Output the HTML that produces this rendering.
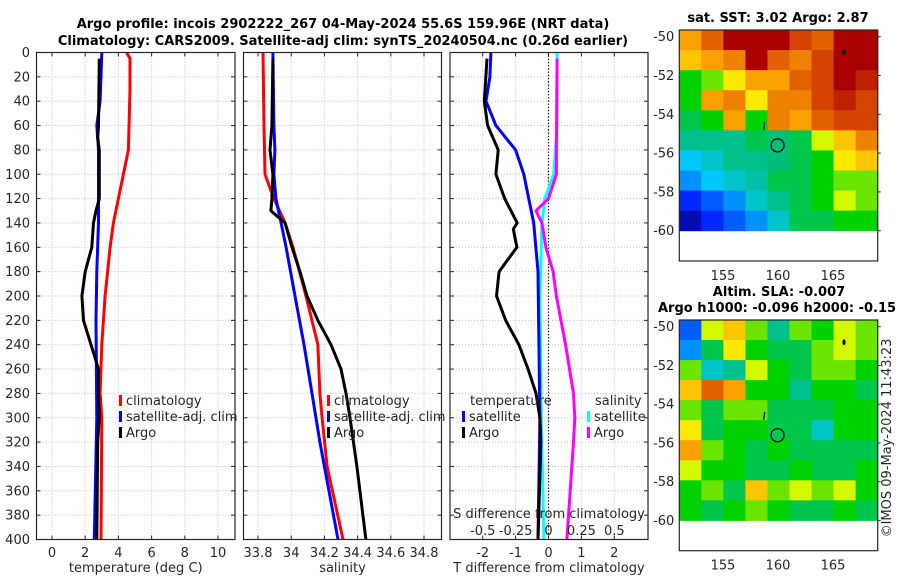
<!DOCTYPE html>
<html><head><meta charset="utf-8"><style>
body{margin:0;background:#fff;}
svg{font-family:"DejaVu Sans","Liberation Sans",sans-serif;}
</style></head><body>
<svg id="s" width="900" height="580" xmlns="http://www.w3.org/2000/svg"></svg>
<script>
const depths_clim=[0,5,30,80,100,120,140,160,200,240,280,300,400];
const tempClim=[4.5,4.7,4.7,4.6,4.3,4.0,3.7,3.5,3.2,3.0,2.9,3.0,2.95];
const depths_sat=[0,40,60,80,100,140,180,220,300,400];
const tempSat=[3.0,2.9,2.7,2.8,2.8,2.8,2.7,2.65,2.7,2.55];
const depths_argo=[5,60,70,80,120,130,140,160,180,200,220,240,260,280,300,320,400];
const tempArgo=[2.85,2.8,2.75,2.85,2.85,2.65,2.5,2.4,2.0,1.8,1.9,2.35,2.8,2.8,2.85,2.75,2.7];
const depths_sc=[0,60,100,120,140,160,200,240,280,300,340,400];
const salClim=[33.83,33.836,33.842,33.896,33.963,34.011,34.089,34.161,34.173,34.186,34.216,34.312];
const depths_ss=[0,60,80,100,120,140,160,200,240,280,320,400];
const salSat=[33.89,33.896,33.902,33.896,33.908,33.939,33.969,34.023,34.077,34.125,34.173,34.282];
const depths_sa=[5,60,80,100,120,130,140,160,180,200,220,240,260,280,300,340,400];
const salArgo=[33.89,33.884,33.872,33.89,33.884,33.878,33.963,34.005,34.053,34.095,34.161,34.24,34.3,34.33,34.354,34.396,34.45];
const depths_dts=[0,20,40,60,80,100,140,180,300,400];
const dTSat=[-1.75,-1.78,-1.9,-1.6,-1.0,-0.75,-0.45,-0.32,-0.26,-0.32];
const depths_dta=[5,40,60,80,100,120,140,145,160,180,200,220,240,260,280,300,320,400];
const dTArgo=[-1.87,-1.95,-1.85,-1.53,-1.6,-1.33,-0.95,-1.07,-0.96,-1.5,-1.58,-1.3,-0.9,-0.62,-0.38,-0.26,-0.23,-0.32];
const depths_dss=[0,60,100,120,140,160,200,300,400];
const dSSat=[0.065,0.065,0.04,-0.027,-0.05,-0.055,-0.065,-0.055,-0.035];
const depths_dsa=[5,80,100,120,130,140,160,180,200,240,280,300,320,400];
const dSArgo=[0.065,0.06,0.06,0.0,-0.095,-0.05,-0.02,0.035,0.06,0.13,0.19,0.2,0.19,0.14];
const depthTicks=[0,20,40,60,80,100,120,140,160,180,200,220,240,260,280,300,320,340,360,380,400];
const tempTicks=[0,2,4,6,8,10];
const salTicks=[33.8,34,34.2,34.4,34.6,34.8];
const salTickLabels=["33.8","34","34.2","34.4","34.6","34.8"];
const dTTicks=[-2,-1,0,1,2];
const dSTicks=[-0.5,-0.25,0,0.25,0.5];
const dSTickLabels=["-0.5","-0.25","0","0.25","0.5"];
const latTicks=[-50,-52,-54,-56,-58,-60];
const lonTicks=[155,160,165];
const sstGrid=[
[0.75,0.85,1,1,1,0.9,0.85,1,1],
[0.7,0.75,0.8,1,0.85,0.8,0.9,1,1],
[0.5,0.55,0.65,0.75,0.75,0.85,0.9,1,0.95],
[0.5,0.75,0.8,0.65,0.8,0.8,0.9,0.95,0.9],
[0.45,0.5,0.75,0.5,0.8,0.75,0.85,0.9,0.9],
[0.4,0.4,0.4,0.45,0.42,0.45,0.6,0.7,0.8],
[0.3,0.35,0.4,0.4,0.42,0.45,0.5,0.65,0.7],
[0.25,0.3,0.35,0.38,0.45,0.45,0.5,0.55,0.55],
[0.15,0.2,0.25,0.35,0.4,0.45,0.5,0.6,0.55],
[0.05,0.15,0.2,0.25,0.35,0.45,0.45,0.5,0.5]];
const slaGrid=[
[0.2,0.6,0.7,0.55,0.4,0.55,0.5,0.6,0.55],
[0.25,0.45,0.65,0.5,0.45,0.45,0.55,0.6,0.55],
[0.55,0.35,0.4,0.6,0.5,0.45,0.55,0.55,0.5],
[0.7,0.85,0.75,0.5,0.5,0.4,0.5,0.5,0.45],
[0.55,0.45,0.55,0.55,0.45,0.45,0.45,0.5,0.5],
[0.65,0.45,0.5,0.5,0.45,0.45,0.35,0.5,0.5],
[0.75,0.55,0.5,0.45,0.5,0.45,0.45,0.45,0.45],
[0.6,0.5,0.5,0.45,0.45,0.5,0.45,0.45,0.5],
[0.5,0.55,0.45,0.7,0.55,0.6,0.55,0.6,0.5],
[0.5,0.45,0.5,0.55,0.5,0.45,0.45,0.5,0.45]];

const S=document.getElementById('s');
const NS='http://www.w3.org/2000/svg';
function el(t,a,p){const e=document.createElementNS(NS,t);for(const k in a)e.setAttribute(k,a[k]);(p||S).appendChild(e);return e;}
function txt(x,y,s,a,p){const e=el('text',Object.assign({x:x,y:y,'font-size':13,fill:'#262626'},a||{}),p);e.textContent=s;return e;}
const Y0=52.5,Y1=539.5;
const yS=p=>Y0+p*(Y1-Y0)/400;

function panel(name,x0,x1,xs,ticks,labels,title){
  const g=el('g',{});
  
  
  ticks.forEach(t=>{const x=xs(t);el('line',{x1:x,x2:x,y1:Y0,y2:Y1,stroke:'#b8c0dc','stroke-dasharray':'1,2','stroke-width':1},g);});
  depthTicks.forEach(d=>{const y=yS(d);el('line',{x1:x0,x2:x1,y1:y,y2:y,stroke:'#b8c0dc','stroke-dasharray':'1,2','stroke-width':1},g);
    el('line',{x1:x0,x2:x0+4,y1:y,y2:y,stroke:'#262626'},g);el('line',{x1:x1-4,x2:x1,y1:y,y2:y,stroke:'#262626'},g);});
  ticks.forEach((t,i)=>{const x=xs(t);el('line',{x1:x,x2:x,y1:Y1,y2:Y1-4,stroke:'#262626'},g);el('line',{x1:x,x2:x,y1:Y0,y2:Y0+4,stroke:'#262626'},g);
    const l=txt(x,557,labels[i],{'text-anchor':'middle'},g);});
  const tt=txt((x0+x1)/2,572,title,{'text-anchor':'middle'},g);
  
  return g;
}
function frame(g,x0,x1){el('rect',{x:x0,y:Y0,width:x1-x0,height:Y1-Y0,fill:'none',stroke:'#262626','stroke-width':1.2},g);}
function line(g,depths,vals,xs,color,name){
  const d=vals.map((v,i)=>(i?'L':'M')+xs(v).toFixed(1)+','+yS(depths[i]).toFixed(1)).join('');
  const p=el('path',{d:d,fill:'none',stroke:color,'stroke-width':3,'stroke-linejoin':'round'},g);
  
}
function leg(g,x,y,color,label){
  el('rect',{x:x,y:y-10,width:3,height:11,fill:color},g);
  const t=txt(x+7,y,label,{},g);
}

// Panel 1
const xT=t=>52+t*16.6;
const g1=panel('temperature-panel',36.5,235,xT,tempTicks,tempTicks.map(String),'temperature (deg C)');
depthTicks.forEach(d=>{const l=txt(30,yS(d)+4.5,String(d),{'text-anchor':'end'});});
line(g1,depths_clim,tempClim,xT,'#ff0000','temp-climatology-line');
line(g1,depths_sat,tempSat,xT,'#0000ff','temp-satellite-line');
line(g1,depths_argo,tempArgo,xT,'#000000','temp-argo-line');
frame(g1,36.5,235);
leg(g1,119,405,'#ff0000','climatology');leg(g1,119,421,'#0000ff','satellite-adj. clim');leg(g1,119,437,'#000000','Argo');

// Panel 2
const xSal=s=>258+(s-33.8)*166;
const g2=panel('salinity-panel',243.5,441.5,xSal,salTicks,salTickLabels,'salinity');
line(g2,depths_sc,salClim,xSal,'#ff0000','sal-climatology-line');
line(g2,depths_ss,salSat,xSal,'#0000ff','sal-satellite-line');
line(g2,depths_sa,salArgo,xSal,'#000000','sal-argo-line');
frame(g2,243.5,441.5);
leg(g2,327,405,'#ff0000','climatology');leg(g2,327,421,'#0000ff','satellite-adj. clim');leg(g2,327,437,'#000000','Argo');

// Panel 3
const xD=d=>548.5+d*32.9;
const xDS=d=>548.5+d*131.6;
const g3=panel('difference-panel',450,648,xD,dTTicks,dTTicks.map(String),'T difference from climatology');
el('line',{x1:xD(0),x2:xD(0),y1:Y0,y2:Y1,stroke:'#000','stroke-dasharray':'1.2,2','stroke-width':1.2},g3);
line(g3,depths_dss,dSSat,xDS,'#00ffff','sdiff-satellite-line');
line(g3,depths_dsa,dSArgo,xDS,'#ff00ff','sdiff-argo-line');
line(g3,depths_dts,dTSat,xD,'#0000ff','tdiff-satellite-line');
line(g3,depths_dta,dTArgo,xD,'#000000','tdiff-argo-line');
frame(g3,450,648);
txt(470,405,'temperature',{},g3);leg(g3,462,421,'#0000ff','satellite');leg(g3,462,437,'#000000','Argo');
txt(595,405,'salinity',{},g3);leg(g3,587,421,'#00ffff','satellite');leg(g3,587,437,'#ff00ff','Argo');
txt(549,518,'S difference from climatology',{'text-anchor':'middle'},g3);
dSTicks.forEach((t,i)=>{const l=txt(xDS(t),535,dSTickLabels[i],{'text-anchor':'middle'},g3);});

// Titles
const t1=txt(343,28,'Argo profile: incois 2902222_267 04-May-2024 55.6S 159.96E (NRT data)',{'text-anchor':'middle','font-weight':'bold','fill':'#000'});

const t2=txt(343,45,'Climatology: CARS2009. Satellite-adj clim: synTS_20240504.nc (0.26d earlier)',{'text-anchor':'middle','font-weight':'bold','fill':'#000'});


// Maps
function jet(v){
  const stops=[[0,[0,0,140]],[0.15,[0,40,255]],[0.3,[0,200,255]],[0.42,[0,190,120]],[0.5,[0,210,0]],[0.62,[255,255,0]],[0.75,[250,160,0]],[0.88,[220,80,0]],[1,[170,0,0]]];
  for(let i=1;i<stops.length;i++){if(v<=stops[i][0]){const a=stops[i-1],b=stops[i],f=(v-a[0])/(b[0]-a[0]);return 'rgb('+a[1].map((c,k)=>Math.round(c+(b[1][k]-c)*f)).join(',')+')';}}
  return 'rgb(170,0,0)';
}
function map(name,bx0,bx1,by0,by1,lat50,lat60,grid,titles){
  const g=el('g',{});
  
  const yL=l=>lat50+(-50-l)*(lat60-lat50)/10;
  const xL=l=>778+(l-160)*11;
  const rows=grid.length,cols=grid[0].length;
  const cw=(bx1-bx0)/cols, ch=(yL(-60)-by0)/rows;
  grid.forEach((r,i)=>r.forEach((v,j)=>{const c=el('rect',{x:bx0+j*cw,y:by0+i*ch,width:cw+0.5,height:ch+0.5,fill:jet(v)},g);
    }));
  el('circle',{cx:xL(159.96),cy:yL(-55.6),r:6.5,fill:'none',stroke:'#000','stroke-width':1.2},g);
  el('ellipse',{cx:xL(166),cy:yL(-50.8),rx:1.5,ry:3,fill:'#000'},g);
  el('line',{x1:xL(158.8),y1:yL(-54.4),x2:xL(158.7),y2:yL(-54.8),stroke:'#000','stroke-width':1.2},g);
  el('rect',{x:bx0,y:by0,width:bx1-bx0,height:by1-by0,fill:'none',stroke:'#262626','stroke-width':1.2},g);
  latTicks.forEach(l=>{const y=yL(l);el('line',{x1:bx1,x2:bx1+3,y1:y,y2:y,stroke:'#262626'},g);
    const t=txt(bx0-5,y+4.5,String(l),{'text-anchor':'end'},g);});
  lonTicks.forEach(l=>{const t=txt(xL(l),by1+19,String(l),{'text-anchor':'middle'},g);});
  titles.forEach(tt=>{const t=txt(tt[0],tt[1],tt[2],{'text-anchor':tt[3],'font-weight':'bold','fill':'#000'},g);});
}
map('sst-map',679.3,877.7,30,261,36.7,230.7,sstGrid,[[778,22,'sat. SST: 3.02 Argo: 2.87','middle']]);
map('sla-map',679.3,877.7,320,550.7,326.7,520.4,slaGrid,[[779,296,'Altim. SLA: -0.007','middle'],[658,312,'Argo h1000: -0.096 h2000: -0.15','start']]);
const c=txt(0,0,'©IMOS 09-May-2024 11:43:23',{'text-anchor':'middle',transform:'translate(891,438) rotate(-90)'});

</script>
</body></html>
